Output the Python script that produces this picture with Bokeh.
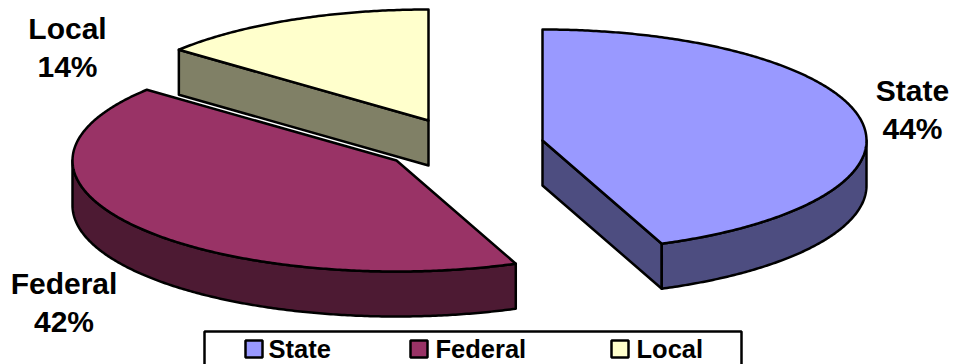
import numpy as np
from bokeh.core.properties import value
from bokeh.embed import file_html
from bokeh.models import Range1d
from bokeh.plotting import figure
from bokeh.resources import INLINE

# Chart data
categories = ["State", "Federal", "Local"]
shares = [44, 42, 14]
top_colors = ["#9999FF", "#993366", "#FFFFCC"]
side_colors = ["#4D4D80", "#4D1A33", "#808066"]

# Pie geometry, in page pixels
RX, RY, DEPTH = 324, 111, 45
APEX = {"State": (542, 140), "Federal": (396, 160), "Local": (428, 120)}
FONT = value("Liberation Sans")

p = figure(width=953, height=364, output_backend="svg", toolbar_location=None,
           x_range=Range1d(0, 953), y_range=Range1d(364, 0),
           min_border=0, outline_line_color=None, background_fill_color="white",
           border_fill_color="white")
p.axis.visible = False
p.grid.visible = False


def rim(name, a0, a1):
    """Points along the top rim of a slice; angles run clockwise from the back."""
    t = np.radians(np.linspace(a0, a1, max(int(abs(a1 - a0)) * 2, 2)))
    cx, cy = APEX[name]
    return cx + RX * np.sin(t), cy - RY * np.cos(t)


def outlined(xs, ys, fill):
    p.patch(list(xs), list(ys), fill_color=fill, line_color="black", line_width=2.5,
            line_join="round")


bounds = np.cumsum([0] + shares) / sum(shares) * 360
spans = {c: (bounds[i], bounds[i + 1]) for i, c in enumerate(categories)}

# Local: radial cut wall, then top face
a0, a1 = spans["Local"]
x, y = rim("Local", a0, a1)
cx, cy = APEX["Local"]
outlined([x[0], cx, cx, x[0]], [y[0], cy, cy + DEPTH, y[0] + DEPTH], side_colors[2])
outlined(np.r_[cx, x], np.r_[cy, y], top_colors[2])

# Federal: outer wall from the front cut round to the leftmost point, then top face
a0, a1 = spans["Federal"]
xw, yw = rim("Federal", a0, 270)
outlined(np.r_[xw, xw[::-1]], np.r_[yw, yw[::-1] + DEPTH], side_colors[1])
x, y = rim("Federal", a0, a1)
cx, cy = APEX["Federal"]
outlined(np.r_[cx, x], np.r_[cy, y], top_colors[1])

# State: radial cut wall, outer wall, then top face
a0, a1 = spans["State"]
x, y = rim("State", a0, a1)
cx, cy = APEX["State"]
outlined([cx, x[-1], x[-1], cx], [cy, y[-1], y[-1] + DEPTH, cy + DEPTH], side_colors[0])
xw, yw = rim("State", 90, a1)
outlined(np.r_[xw, xw[::-1]], np.r_[yw, yw[::-1] + DEPTH], side_colors[0])
outlined(np.r_[cx, x], np.r_[cy, y], top_colors[0])

# Slice labels, two centred lines each
label_pos = {"State": (912, 90), "Federal": (63.5, 283), "Local": (67, 28)}
for name, share in zip(categories, shares):
    lx, ly = label_pos[name]
    p.text([lx, lx], [ly, ly + 38], text=[name, f"{share}%"], text_font=FONT,
           text_font_style="bold", text_font_size="30px", text_align="center",
           text_baseline="middle", text_color="black")

# Legend strip, running off the bottom of the page
p.quad(left=[204], right=[741], top=[331], bottom=[380], fill_color="white",
       line_color="black", line_width=2.5)
swatch_x = [245, 410, 611]
text_x = [268, 435, 636]
for sx, tx, name, col in zip(swatch_x, text_x, categories, top_colors):
    p.quad(left=[sx], right=[sx + 17], top=[340], bottom=[357], fill_color=col,
           line_color="black", line_width=2.5)
    p.text([tx], [348], text=[name], text_font=FONT, text_font_style="bold",
           text_font_size="25.5px", text_align="left", text_baseline="middle",
           text_color="black")

open("out.html", "w").write(file_html(p, INLINE))
